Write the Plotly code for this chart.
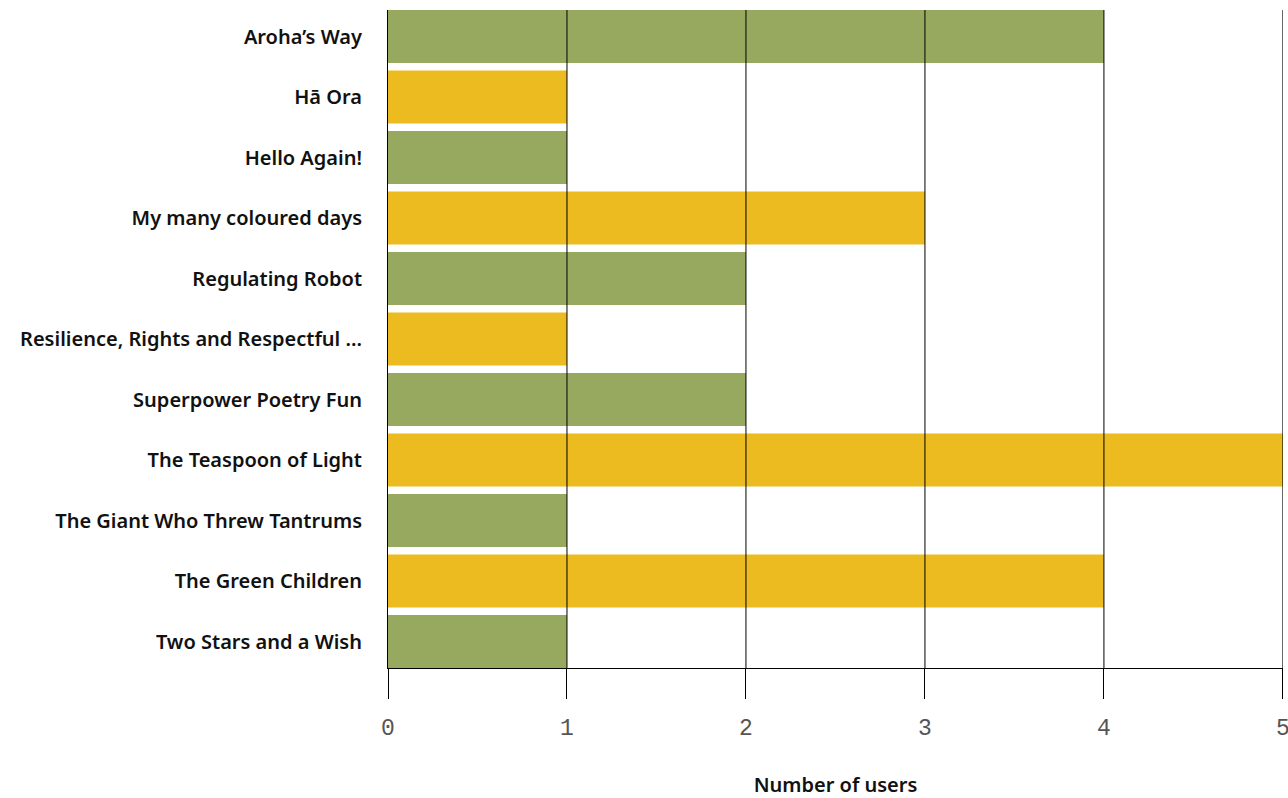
import plotly.graph_objects as go

categories = [
    "Aroha’s Way",
    "Hā Ora",
    "Hello Again!",
    "My many coloured days",
    "Regulating Robot",
    "Resilience, Rights and Respectful ...",
    "Superpower Poetry Fun",
    "The Teaspoon of Light",
    "The Giant Who Threw Tantrums",
    "The Green Children",
    "Two Stars and a Wish",
]
users = [4, 1, 1, 3, 2, 1, 2, 5, 1, 4, 1]
tick_values = [0, 1, 2, 3, 4, 5]

GREEN = "#97A95E"
YELLOW = "#EBBB1F"
colors = [GREEN if i % 2 == 0 else YELLOW for i in range(len(categories))]

BARGAP = 0.124
n = len(categories)

fig = go.Figure(
    go.Bar(
        x=users,
        y=categories,
        orientation="h",
        marker=dict(color=colors, line=dict(width=0)),
        hoverinfo="x+y",
    )
)

# gridlines drawn above the bars
for v in tick_values[1:]:
    fig.add_shape(
        type="line", xref="x", yref="paper", x0=v, x1=v, y0=0, y1=1,
        line=dict(color="black", width=1), layer="above",
    )

fig.update_layout(
    width=1288,
    height=798,
    margin=dict(l=388, r=5, t=10, b=130),
    paper_bgcolor="white",
    plot_bgcolor="white",
    bargap=BARGAP,
    showlegend=False,
    xaxis=dict(
        range=[0, 5.0005],
        tickvals=tick_values,
        ticks="outside",
        ticklen=30,
        tickwidth=1,
        tickcolor="black",
        showgrid=False,
        zeroline=False,
        showline=True,
        linecolor="black",
        linewidth=1,
        automargin=False,
        ticklabeloverflow="allow",
        ticklabelstandoff=8,
        tickfont=dict(family="Liberation Mono", size=23, color="#555555"),
        title=dict(
            text="Number of users",
            standoff=47,
            font=dict(family="Noto Sans", size=20, color="#111111", weight=600),
        ),
        fixedrange=True,
    ),
    yaxis=dict(
        range=[n - 0.5 - BARGAP / 2, -0.5 + BARGAP / 2],
        showgrid=False,
        zeroline=False,
        showline=True,
        linecolor="black",
        linewidth=1,
        ticks="",
        automargin=False,
        ticklabelstandoff=21,
        tickfont=dict(family="Noto Sans", size=20, color="#111111", weight=600),
        fixedrange=True,
    ),
)

fig.write_html("out.html")
